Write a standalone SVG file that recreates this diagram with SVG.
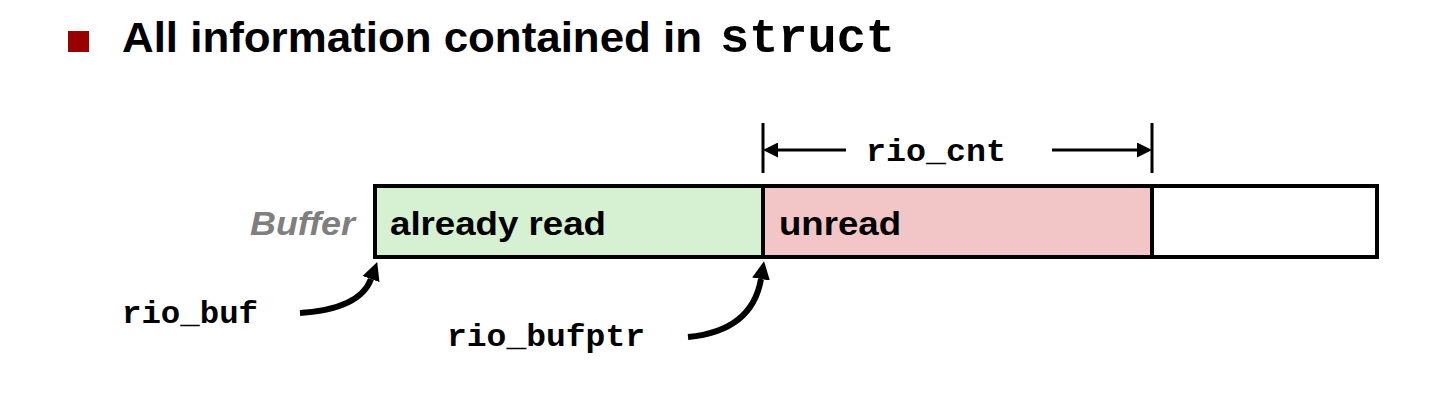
<svg xmlns="http://www.w3.org/2000/svg" width="1449" height="405" viewBox="0 0 1449 405">
<defs>
<style>
.mono{font-family:"Liberation Mono","Courier New",monospace;font-weight:bold;fill:#000}
.sans{font-family:"Liberation Sans",Arial,sans-serif;font-weight:bold}
.cell{stroke:#000;stroke-width:4}
.curve{fill:none;stroke:#000;stroke-width:6;stroke-linecap:butt}
.dim{stroke:#000;stroke-width:3;fill:none}
</style>
<marker id="head" viewBox="0 0 10 10" refX="0" refY="5" markerWidth="3" markerHeight="3.2" markerUnits="strokeWidth" orient="auto">
<path d="M0,0 L10,5 L0,10 Z" fill="#000"/>
</marker>
<marker id="dimhead" viewBox="0 0 10 10" refX="0" refY="5" markerWidth="5" markerHeight="5" markerUnits="strokeWidth" orient="auto">
<path d="M0,0 L10,5 L0,10 Z" fill="#000"/>
</marker>
</defs>
<rect width="1449" height="405" fill="#fff"/>
<g id="title">
<rect x="68" y="31" width="21" height="21" fill="#990000"/>
<text class="sans" x="122" y="52" font-size="43" textLength="580" lengthAdjust="spacingAndGlyphs">All information contained in</text>
<text class="mono" x="720" y="52" font-size="48" textLength="175" lengthAdjust="spacingAndGlyphs">struct</text>
</g>
<g id="buffer-label">
<text class="sans" x="355" y="235" font-size="34" font-style="italic" fill="#7f7f7f" text-anchor="end" textLength="105" lengthAdjust="spacingAndGlyphs">Buffer</text>
</g>
<g id="already-read">
<rect class="cell" x="375" y="186" width="388" height="71" fill="#d6f0d2"/>
<text class="sans" x="390" y="235" font-size="34" fill="#000" textLength="216" lengthAdjust="spacingAndGlyphs">already read</text>
</g>
<g id="unread">
<rect class="cell" x="763" y="186" width="389" height="71" fill="#f2c6c6"/>
<text class="sans" x="779" y="235" font-size="34" fill="#000" textLength="122" lengthAdjust="spacingAndGlyphs">unread</text>
</g>
<g id="free">
<rect class="cell" x="1152" y="186" width="225" height="71" fill="#fff"/>
</g>
<g id="rio_cnt">
<line class="dim" x1="763" y1="123" x2="763" y2="173"/>
<line class="dim" x1="1152" y1="123" x2="1152" y2="173"/>
<line class="dim" x1="846" y1="150" x2="778" y2="150" marker-end="url(#dimhead)"/>
<line class="dim" x1="1052" y1="150" x2="1137" y2="150" marker-end="url(#dimhead)"/>
<text class="mono" x="866" y="161" font-size="32" textLength="140" lengthAdjust="spacingAndGlyphs">rio_cnt</text>
</g>
<g id="rio_buf">
<text class="mono" x="122" y="323" font-size="32" textLength="136" lengthAdjust="spacingAndGlyphs">rio_buf</text>
</g>
<g id="rio_bufptr">
<text class="mono" x="447" y="346" font-size="32" textLength="198" lengthAdjust="spacingAndGlyphs">rio_bufptr</text>
</g>
<g id="connectors">
<path class="curve" d="M300,313 Q360,309 371,279" marker-end="url(#head)"/>
<path class="curve" d="M688,337 Q752,331 761,279" marker-end="url(#head)"/>
</g>
</svg>
